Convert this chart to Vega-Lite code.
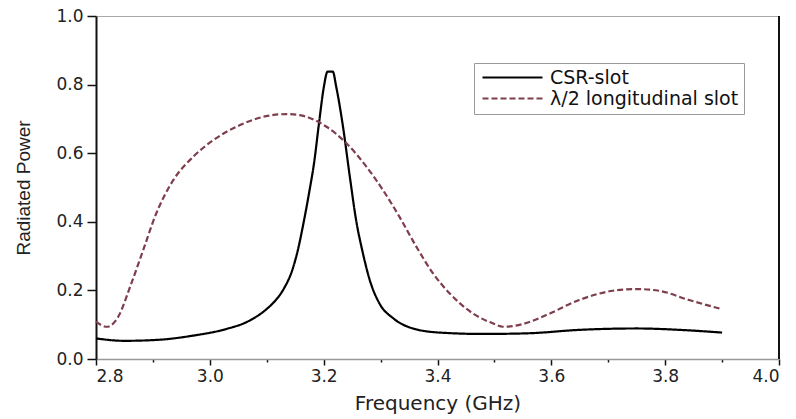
{
  "$schema": "https://vega.github.io/schema/vega-lite/v6.json",
  "autosize": "none",
  "width": 683,
  "height": 343,
  "padding": {"left": 96, "top": 16, "right": 17, "bottom": 60},
  "background": "white",
  "config": {
    "view": {"stroke": "#aaaaaa", "strokeWidth": 1},
    "axis": {"grid": false}
  },
  "layer": [
    {
      "data": {
        "values": [
          {"f": 2.800, "p": 0.060, "s": "CSR-slot"},
          {"f": 2.850, "p": 0.053, "s": "CSR-slot"},
          {"f": 2.910, "p": 0.056, "s": "CSR-slot"},
          {"f": 2.970, "p": 0.068, "s": "CSR-slot"},
          {"f": 3.030, "p": 0.088, "s": "CSR-slot"},
          {"f": 3.065, "p": 0.108, "s": "CSR-slot"},
          {"f": 3.100, "p": 0.146, "s": "CSR-slot"},
          {"f": 3.115, "p": 0.170, "s": "CSR-slot"},
          {"f": 3.130, "p": 0.205, "s": "CSR-slot"},
          {"f": 3.145, "p": 0.260, "s": "CSR-slot"},
          {"f": 3.155, "p": 0.320, "s": "CSR-slot"},
          {"f": 3.165, "p": 0.400, "s": "CSR-slot"},
          {"f": 3.175, "p": 0.490, "s": "CSR-slot"},
          {"f": 3.183, "p": 0.570, "s": "CSR-slot"},
          {"f": 3.192, "p": 0.690, "s": "CSR-slot"},
          {"f": 3.200, "p": 0.790, "s": "CSR-slot"},
          {"f": 3.207, "p": 0.838, "s": "CSR-slot"},
          {"f": 3.216, "p": 0.838, "s": "CSR-slot"},
          {"f": 3.222, "p": 0.794, "s": "CSR-slot"},
          {"f": 3.234, "p": 0.677, "s": "CSR-slot"},
          {"f": 3.246, "p": 0.531, "s": "CSR-slot"},
          {"f": 3.257, "p": 0.405, "s": "CSR-slot"},
          {"f": 3.269, "p": 0.308, "s": "CSR-slot"},
          {"f": 3.281, "p": 0.230, "s": "CSR-slot"},
          {"f": 3.298, "p": 0.162, "s": "CSR-slot"},
          {"f": 3.322, "p": 0.119, "s": "CSR-slot"},
          {"f": 3.357, "p": 0.089, "s": "CSR-slot"},
          {"f": 3.404, "p": 0.077, "s": "CSR-slot"},
          {"f": 3.480, "p": 0.073, "s": "CSR-slot"},
          {"f": 3.560, "p": 0.075, "s": "CSR-slot"},
          {"f": 3.650, "p": 0.085, "s": "CSR-slot"},
          {"f": 3.750, "p": 0.089, "s": "CSR-slot"},
          {"f": 3.825, "p": 0.085, "s": "CSR-slot"},
          {"f": 3.900, "p": 0.077, "s": "CSR-slot"},
          {"f": 2.800, "p": 0.109, "s": "λ/2 longitudinal slot"},
          {"f": 2.819, "p": 0.094, "s": "λ/2 longitudinal slot"},
          {"f": 2.839, "p": 0.123, "s": "λ/2 longitudinal slot"},
          {"f": 2.860, "p": 0.211, "s": "λ/2 longitudinal slot"},
          {"f": 2.883, "p": 0.318, "s": "λ/2 longitudinal slot"},
          {"f": 2.906, "p": 0.425, "s": "λ/2 longitudinal slot"},
          {"f": 2.936, "p": 0.522, "s": "λ/2 longitudinal slot"},
          {"f": 2.971, "p": 0.590, "s": "λ/2 longitudinal slot"},
          {"f": 3.006, "p": 0.638, "s": "λ/2 longitudinal slot"},
          {"f": 3.053, "p": 0.682, "s": "λ/2 longitudinal slot"},
          {"f": 3.099, "p": 0.708, "s": "λ/2 longitudinal slot"},
          {"f": 3.135, "p": 0.714, "s": "λ/2 longitudinal slot"},
          {"f": 3.158, "p": 0.711, "s": "λ/2 longitudinal slot"},
          {"f": 3.181, "p": 0.699, "s": "λ/2 longitudinal slot"},
          {"f": 3.205, "p": 0.677, "s": "λ/2 longitudinal slot"},
          {"f": 3.240, "p": 0.629, "s": "λ/2 longitudinal slot"},
          {"f": 3.275, "p": 0.561, "s": "λ/2 longitudinal slot"},
          {"f": 3.304, "p": 0.493, "s": "λ/2 longitudinal slot"},
          {"f": 3.333, "p": 0.415, "s": "λ/2 longitudinal slot"},
          {"f": 3.363, "p": 0.327, "s": "λ/2 longitudinal slot"},
          {"f": 3.392, "p": 0.250, "s": "λ/2 longitudinal slot"},
          {"f": 3.421, "p": 0.192, "s": "λ/2 longitudinal slot"},
          {"f": 3.462, "p": 0.133, "s": "λ/2 longitudinal slot"},
          {"f": 3.497, "p": 0.104, "s": "λ/2 longitudinal slot"},
          {"f": 3.515, "p": 0.094, "s": "λ/2 longitudinal slot"},
          {"f": 3.550, "p": 0.102, "s": "λ/2 longitudinal slot"},
          {"f": 3.591, "p": 0.128, "s": "λ/2 longitudinal slot"},
          {"f": 3.649, "p": 0.172, "s": "λ/2 longitudinal slot"},
          {"f": 3.708, "p": 0.199, "s": "λ/2 longitudinal slot"},
          {"f": 3.749, "p": 0.204, "s": "λ/2 longitudinal slot"},
          {"f": 3.789, "p": 0.199, "s": "λ/2 longitudinal slot"},
          {"f": 3.842, "p": 0.172, "s": "λ/2 longitudinal slot"},
          {"f": 3.900, "p": 0.145, "s": "λ/2 longitudinal slot"}
        ]
      },
      "mark": {"type": "line", "interpolate": "monotone", "strokeWidth": 2.2},
      "encoding": {
        "x": {
          "field": "f", "type": "quantitative",
          "scale": {"domain": [2.8, 4.0], "nice": false, "zero": false},
          "axis": {
            "title": "Frequency (GHz)",
            "values": [2.8, 2.9, 3.0, 3.1, 3.2, 3.3, 3.4, 3.5, 3.6, 3.7, 3.8, 3.9, 4.0],
            "labelExpr": "round(datum.value*10)%2==0 ? format(datum.value,'.1f') : ''",
            "tickSize": {"condition": {"test": "round(datum.value*10)%2==0", "value": 6}, "value": 3},
            "tickColor": "#111", "tickWidth": 1.5,
            "domainColor": "#999999", "domainWidth": 1.5,
            "labelFont": "DejaVu Sans", "labelFontSize": 17, "labelColor": "#222",
            "labelPadding": 3,
            "titleFont": "DejaVu Sans", "titleFontSize": 20, "titleFontWeight": "normal", "titleColor": "#222",
            "titlePadding": 9
          }
        },
        "y": {
          "field": "p", "type": "quantitative",
          "scale": {"domain": [0, 1], "nice": false},
          "axis": {
            "title": "Radiated Power",
            "values": [0, 0.1, 0.2, 0.3, 0.4, 0.5, 0.6, 0.7, 0.8, 0.9, 1.0],
            "labelExpr": "round(datum.value*10)%2==0 ? format(datum.value,'.1f') : ''",
            "tickSize": {"condition": {"test": "round(datum.value*10)%2==0", "value": 9}, "value": 5},
            "tickColor": "#111", "tickWidth": 1.5,
            "domainColor": "#111", "domainWidth": 2,
            "labelFont": "DejaVu Sans", "labelFontSize": 17, "labelColor": "#222",
            "labelPadding": 4,
            "titleFont": "Liberation Sans", "titleFontSize": 19, "titleFontWeight": "normal", "titleColor": "#222",
            "titlePadding": 22
          }
        },
        "color": {
          "field": "s", "type": "nominal",
          "scale": {"domain": ["CSR-slot", "λ/2 longitudinal slot"], "range": ["#000000", "#7e3e4c"]},
          "legend": {
            "title": null,
            "orient": "none",
            "legendX": 378,
            "legendY": 47,
            "strokeColor": "#999999",
            "fillColor": "white",
            "padding": 5,
            "symbolType": "M-1,0H9",
            "symbolSize": 144,
            "symbolStrokeWidth": 2,
            "labelFont": "DejaVu Sans",
            "labelFontSize": 19,
            "labelColor": "#111",
            "labelOffset": 52,
            "rowPadding": 1,
            "labelLimit": 400
          }
        },
        "strokeDash": {
          "field": "s", "type": "nominal",
          "scale": {"domain": ["CSR-slot", "λ/2 longitudinal slot"], "range": [[1, 0], [6, 3]]},
          "legend": null
        }
      }
    },
    {
      "data": {"values": [{"a": 1}]},
      "mark": {"type": "rule", "color": "#111", "strokeWidth": 2},
      "encoding": {
        "x": {"datum": 4.0},
        "y": {"datum": 0},
        "y2": {"datum": 1}
      }
    }
  ]
}
